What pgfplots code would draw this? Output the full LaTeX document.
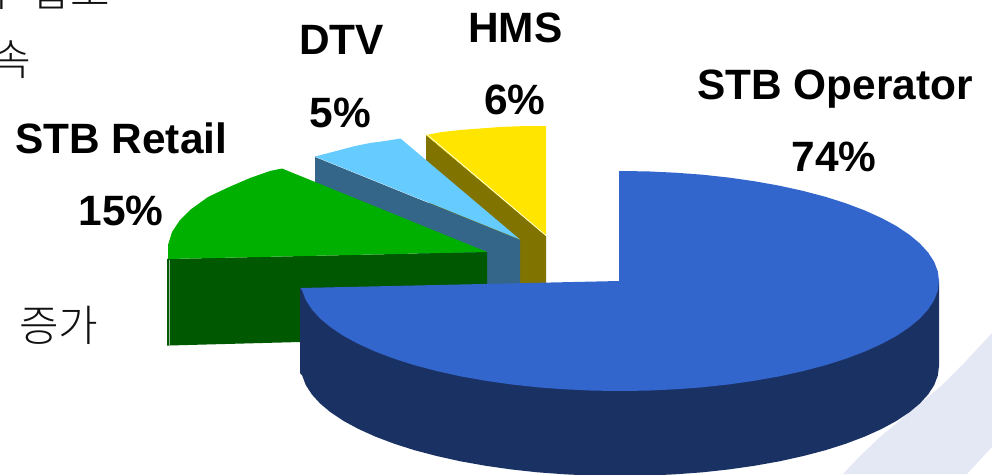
\documentclass[border=0pt]{standalone}
\usepackage{fontspec}
\setmainfont{Liberation Sans}
\newfontfamily\cjk{Noto Sans CJK KR Light}
\usepackage{pgfplots}
\pgfplotsset{compat=1.18}
\definecolor{cBlue}{HTML}{3366CC}
\definecolor{cBlueD}{HTML}{1A3263}
\definecolor{cGreen}{HTML}{00B000}
\definecolor{cGreenD}{HTML}{005800}
\definecolor{cSky}{HTML}{66CCFF}
\definecolor{cSkyD}{HTML}{336688}
\definecolor{cYel}{HTML}{FFE500}
\definecolor{cYelD}{HTML}{807300}
\definecolor{cBg}{HTML}{E4E8F4}
\newcommand{\lab}{\fontsize{42.4}{50}\selectfont\bfseries}
\newcommand{\kor}{\fontsize{43}{50}\selectfont\cjk\color[HTML]{111111}}
\begin{document}
\begin{tikzpicture}
\useasboundingbox (0,0) rectangle (992pt,474pt);
\begin{axis}[at={(0,0)},anchor=south west,scale only axis,width=992pt,height=474pt,
  xmin=0,xmax=992,ymin=0,ymax=474,y dir=reverse,axis lines=none,clip=true,
  every axis plot/.append style={draw=none,mark=none}]
% background swoosh
\addplot[fill=cBg] coordinates {(992,333)(965,362)(940,387)(910,412)(880,437)(860,456)(843,474)(967,474)(992,447)} --cycle;
% HMS
\addplot[fill=cYelD] coordinates {(426,135)(546,236)(546,290)(520,290)(426,200)} --cycle;
\addplot[fill=cYel] coordinates {(426,135)(442,132)(460,130)(480,128.5)(500,127)(525,126)(546,126)(546,236)} --cycle;
\addplot[draw=white,line width=0.6pt] coordinates {(427,134.5)(546,235.5)};
% DTV
\addplot[fill=cSkyD] coordinates {(315,157)(520,240)(520,290)(487,290)(315,200)} --cycle;
\addplot[fill=cSky] coordinates {(315,156.5)(340,150)(355,146)(370,143)(385,141)(400.5,138.5)(520,239.5)} --cycle;
% STB Retail
\addplot[fill=cGreenD] coordinates {(167,259)(487,252)(487,337)(300,342)(169,345.5)(167,345.5)} --cycle;
\addplot[draw=cGreenD!40!white,line width=0.6pt] coordinates {(169,260)(169,345)};
\addplot[fill=cGreen] coordinates {(168,259)(168,245)(172,232)(180,220)(190,210)(208,197)(228,187.5)(250,178)(270,171)(282,168.5)(487,252)} --cycle;
% STB Operator side
\addplot[fill=cBlueD] coordinates {(939,281)(939,366)(937.8,375.6)(934.2,385.1)(928.1,394.5)(919.8,403.6)(909.1,412.5)(896.3,421)(881.3,429.1)(864.4,436.7)(845.6,443.8)(825.1,450.3)(803,456.1)(779.5,461.3)(754.8,465.7)(729.1,469.4)(702.6,472.3)(675.4,474.3)(647.8,475.6)(620,476)(592.2,475.6)(564.6,474.3)(537.4,472.3)(510.9,469.4)(485.2,465.7)(460.5,461.3)(437,456.1)(414.9,450.3)(394.4,443.8)(375.6,436.7)(358.7,429.1)(343.7,421)(330.9,412.5)(320.2,403.6)(311.9,394.5)(305.8,385.1)(302.2,375.6)(300,373)(300,288)} --cycle;
% STB Operator top
\addplot[fill=cBlue] coordinates {(619,281)(619,171)(620,171)(647.8,171.4)(675.4,172.7)(702.6,174.7)(729.1,177.6)(754.8,181.3)(779.5,185.7)(803,190.9)(825.1,196.7)(845.6,203.2)(864.4,210.3)(881.3,217.9)(896.3,226)(909.1,234.5)(919.8,243.4)(928.1,252.5)(934.2,261.9)(937.8,271.4)(939,281)(937.8,290.6)(934.2,300.1)(928.1,309.5)(919.8,318.6)(909.1,327.5)(896.3,336)(881.3,344.1)(864.4,351.7)(845.6,358.8)(825.1,365.3)(803,371.1)(779.5,376.3)(754.8,380.7)(729.1,384.4)(702.6,387.3)(675.4,389.3)(647.8,390.6)(620,391)(592.2,390.6)(564.6,389.3)(537.4,387.3)(510.9,384.4)(485.2,380.7)(460.5,376.3)(437,371.1)(414.9,365.3)(394.4,358.8)(375.6,351.7)(358.7,344.1)(343.7,336)(330.9,327.5)(320.2,318.6)(311.9,309.5)(305.8,300.1)(302.2,290.6)(300.5,288)} --cycle;
% labels
\node[anchor=base west,inner sep=0pt] at (axis cs:697,99) {\lab STB Operator};
\node[anchor=base,inner sep=0pt] at (axis cs:834,171) {\lab 74\%};
\node[anchor=base west,inner sep=0pt] at (axis cs:468,42) {\lab HMS};
\node[anchor=base,inner sep=0pt] at (axis cs:515,114) {\lab 6\%};
\node[anchor=base west,inner sep=0pt] at (axis cs:299,54) {\lab DTV};
\node[anchor=base,inner sep=0pt] at (axis cs:340.5,127) {\lab 5\%};
\node[anchor=base west,inner sep=0pt] at (axis cs:15,153.5) {\lab STB Retail};
\node[anchor=base,inner sep=0pt] at (axis cs:121,225.5) {\lab 15\%};
% cropped body text of the slide
\node[anchor=base west,inner sep=0pt] at (axis cs:-29,6) {\kor 가};
\node[anchor=base west,inner sep=0pt] at (axis cs:31,6) {\kor 합보};
\node[anchor=base west,inner sep=0pt] at (axis cs:-9,75) {\kor 속};
\node[anchor=base west,inner sep=0pt] at (axis cs:19,341.5) {\kor 증가};
\end{axis}
\end{tikzpicture}
\end{document}
